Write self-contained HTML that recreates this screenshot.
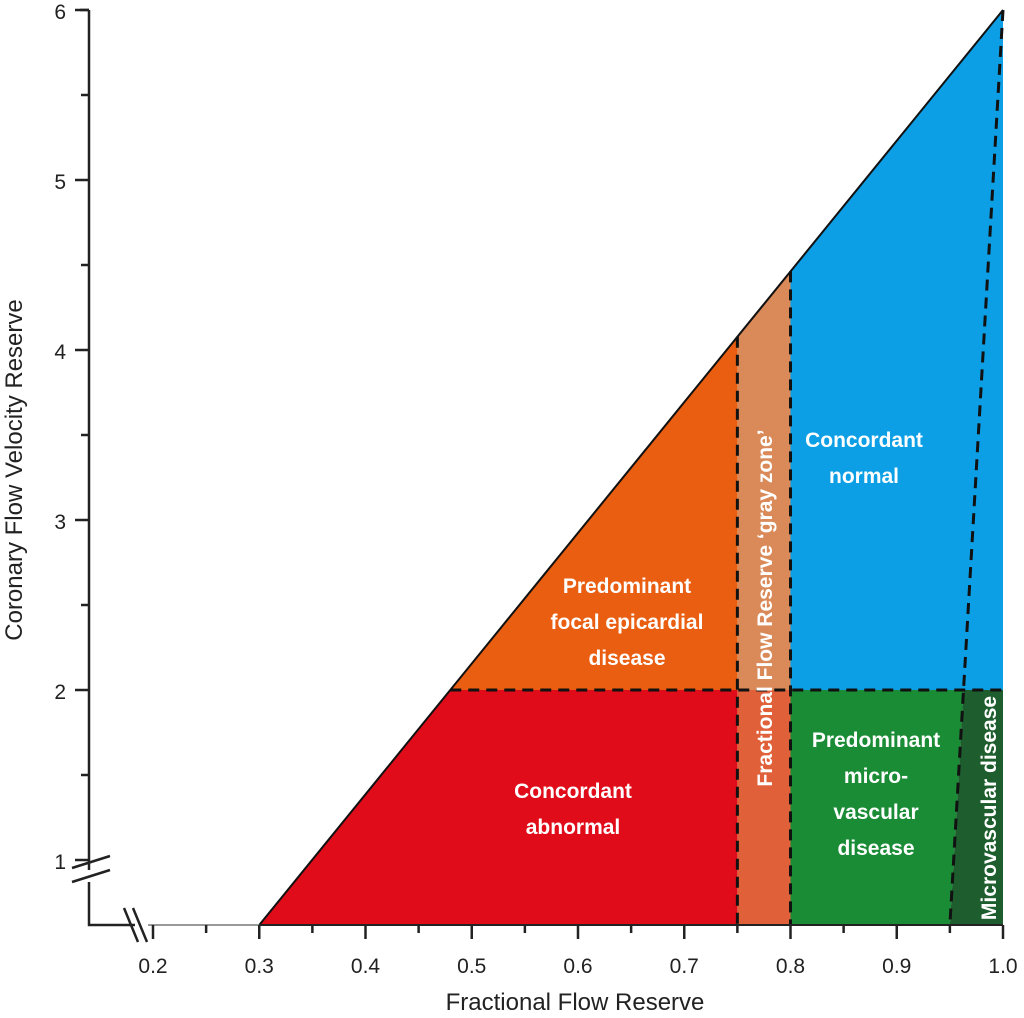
<!DOCTYPE html>
<html><head><meta charset="utf-8"><style>
html,body{margin:0;padding:0;background:#fff;}
svg{display:block;}
text{font-family:"Liberation Sans",sans-serif;}
.lbl{fill:#fff;font-weight:bold;font-size:21px;text-anchor:middle;}
.tick{font-size:21px;fill:#222;}
</style></head><body>
<svg id="chart" width="1024" height="1018" viewBox="0 0 1024 1018" xmlns="http://www.w3.org/2000/svg">
<g id="regions"></g>
<g id="lines"></g>
<g id="axes"></g>
<g id="labels"></g>
<text x="575" y="1010" text-anchor="middle" font-size="24" fill="#222">Fractional Flow Reserve</text>
<text transform="translate(22,470) rotate(-90)" text-anchor="middle" font-size="24" fill="#222">Coronary Flow Velocity Reserve</text>
</svg>
<script>
const xTicks=[0.2,0.3,0.4,0.5,0.6,0.7,0.8,0.9,1.0];
const xTickLabels=["0.2","0.3","0.4","0.5","0.6","0.7","0.8","0.9","1.0"];
const yTicks=[1,2,3,4,5,6];
const yTickLabels=["1","2","3","4","5","6"];
const ffrCuts=[0.75,0.8];
const cfvrCut=2;
const diagStart=0.3;
const microStart=0.95;
const yBottom=0.6176;
const yTop=6;

const NS="http://www.w3.org/2000/svg";
function sx(v){return 153+(v-0.2)*1062.5;}
function sy(v){return 10+(6-v)*170;}
function diag(f){return yBottom+(f-diagStart)*(yTop-yBottom)/(1-diagStart);}
function diagInv(c){return diagStart+(c-yBottom)*(1-diagStart)/(yTop-yBottom);}
function micro(c){return microStart+(c-yBottom)/(yTop-yBottom)*(1-microStart);}
function mk(tag,parent,attrs){const e=document.createElementNS(NS,tag);for(const k in attrs)e.setAttribute(k,attrs[k]);document.getElementById(parent).appendChild(e);return e;}
function pts(a){return a.map(p=>sx(p[0]).toFixed(1)+","+sy(p[1]).toFixed(1)).join(" ");}

const a=ffrCuts[0],b=ffrCuts[1],c=cfvrCut,B=yBottom,xd=diagInv(c),m2=micro(c);
const regs=[
 ["region-focal-epicardial","#e95e10",[[xd,c],[a,c],[a,diag(a)]]],
 ["region-concordant-abnormal","#e00c1a",[[diagStart,B],[a,B],[a,c],[xd,c]]],
 ["region-gray-zone-upper","#d98a58",[[a,c],[b,c],[b,diag(b)],[a,diag(a)]]],
 ["region-gray-zone-lower","#e0603a",[[a,B],[b,B],[b,c],[a,c]]],
 ["region-concordant-normal","#0d9fe6",[[b,c],[1,c],[1,yTop],[b,diag(b)]]],
 ["region-microvascular-predominant","#1a8c35",[[b,B],[microStart,B],[m2,c],[b,c]]],
 ["region-microvascular-disease","#1e5e2e",[[microStart,B],[1,B],[1,c],[m2,c]]]
];
regs.forEach(r=>{
 const e=mk("polygon","regions",{points:pts(r[2]),fill:r[1]});
 
 
});
// diagonal
let d=mk("line","lines",{x1:sx(diagStart),y1:sy(B),x2:sx(1),y2:sy(yTop),stroke:"#111","stroke-width":2});


const dash={stroke:"#111","stroke-width":3,"stroke-dasharray":"11,7",fill:"none"};
const dl=[
 ["dashed-cfvr-2",[xd,c],[1,c]],
 ["dashed-ffr-075",[a,diag(a)],[a,B]],
 ["dashed-ffr-080",[b,diag(b)],[b,B]],
 ["dashed-microvascular",[1,yTop],[microStart,B]]
];
dl.forEach(l=>{
 const e=mk("line","lines",Object.assign({x1:sx(l[1][0]),y1:sy(l[1][1]),x2:sx(l[2][0]),y2:sy(l[2][1])},dash));
 
 
});
// axes
const ax="#222";
const yb=sy(B);
let e;
e=mk("path","axes",{d:`M89,${sy(yTop)} H80 M89,${sy(yTop)} V870 M89,882 V${yb} H135`,stroke:ax,"stroke-width":2.5,fill:"none"});


e=mk("path","axes",{d:`M72,868 L110,856 M72,882 L110,870 M124,908 L138,942 M133,908 L147,942`,stroke:ax,"stroke-width":2.5,fill:"none"});


e=mk("line","axes",{x1:148,y1:yb,x2:sx(diagStart),y2:yb,stroke:"#999","stroke-width":2});


e=mk("line","axes",{x1:sx(diagStart),y1:yb,x2:sx(1),y2:yb,stroke:ax,"stroke-width":2});


for(let v=0.2;v<=1.001;v+=0.05){
 const major=Math.abs(v*10-Math.round(v*10))<0.01;
 e=mk("line","axes",{x1:sx(v),y1:yb,x2:sx(v),y2:yb+(major?14:8),stroke:ax,"stroke-width":2.5});
 
 
}
xTicks.forEach((v,i)=>{
 e=mk("text","axes",{x:sx(v),y:yb+48,"text-anchor":"middle",class:"tick"});
 e.textContent=xTickLabels[i];
 
 
});
for(let v=1;v<=6.001;v+=0.5){
 const major=Math.abs(v-Math.round(v))<0.01;
 e=mk("line","axes",{x1:89,y1:sy(v),x2:89-(major?14:8),y2:sy(v),stroke:ax,"stroke-width":2.5});
 
 
}
yTicks.forEach((v,i)=>{
 e=mk("text","axes",{x:66,y:sy(v)+9,"text-anchor":"end",class:"tick"});
 e.textContent=yTickLabels[i];
 
 
});
// labels
function label(name,lines,x,y,rot){
 const g=mk("text","labels",{class:"lbl",transform:rot?`translate(${x},${y}) rotate(-90)`:`translate(${x},${y})`});
 
 
 lines.forEach((t,i)=>{const s=document.createElementNS(NS,"tspan");s.setAttribute("x",0);s.setAttribute("y",i*36);s.textContent=t;g.appendChild(s);});
}
label("label-focal-epicardial",["Predominant","focal epicardial","disease"],627,593);
label("label-concordant-abnormal",["Concordant","abnormal"],573,798);
label("label-concordant-normal",["Concordant","normal"],864,447);
label("label-micro-predominant",["Predominant","micro-","vascular","disease"],876,747);
label("label-gray-zone",["Fractional Flow Reserve \u2018gray zone\u2019"],772,608,true);
label("label-microvascular-disease",["Microvascular disease"],996,808,true);
</script>
</body></html>
